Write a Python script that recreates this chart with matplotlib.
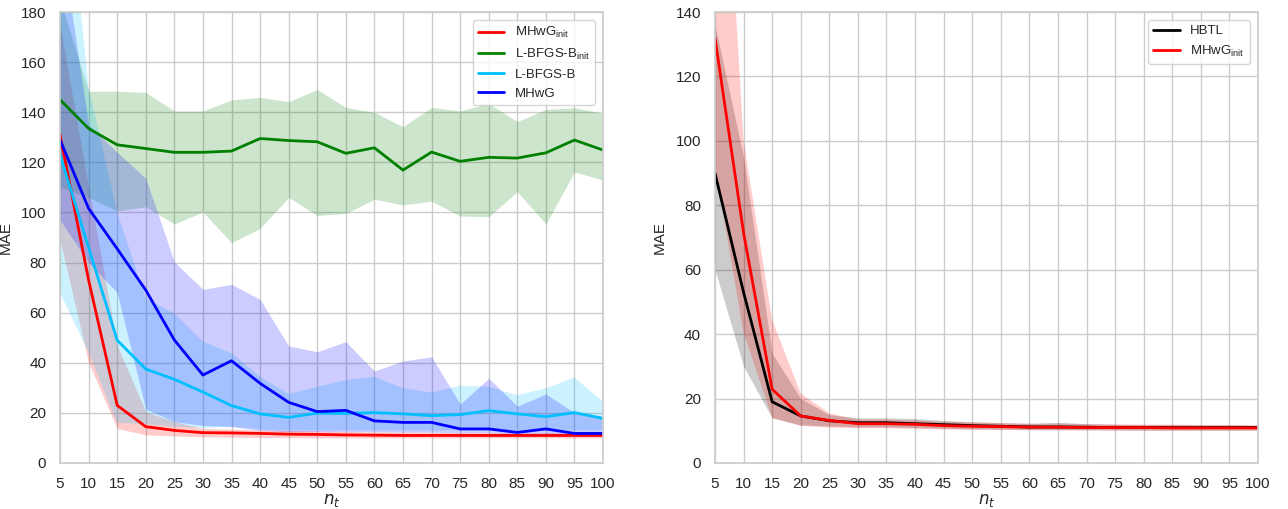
import numpy as np
import matplotlib
matplotlib.use('Agg')
import matplotlib.pyplot as plt
import seaborn as sns

sns.set_theme(style='whitegrid')
plt.rcParams['font.family'] = ['Liberation Sans', 'DejaVu Sans']

n_t = [5, 10, 15, 20, 25, 30, 35, 40, 45, 50, 55, 60, 65, 70, 75, 80, 85, 90, 95, 100]

# left panel
mhwg_init_mean = [131, 73, 23, 14.5, 13, 12.1, 12, 11.8, 11.5, 11.4, 11.2, 11.1, 11, 11, 11, 11, 11, 11, 11, 11]
mhwg_init_lo = [89, 40, 13.8, 11.2, 10.8, 10.5, 10.3, 10.2, 10.1, 10, 10, 10, 10, 10, 10, 10, 10, 10, 10, 10]
mhwg_init_hi = [175, 110, 47, 20.5, 16.5, 13.8, 13.5, 13.2, 13, 12.8, 12.6, 12.4, 12.3, 12.2, 12.1, 12, 12, 12, 12, 12]

lbfgsb_init_mean = [145, 133.5, 127, 125.5, 124, 124, 124.5, 129.5, 128.7, 128.2, 123.6, 125.8, 116.9, 124.1, 120.4, 122, 121.7, 123.8, 128.9, 124.9]
lbfgsb_init_lo = [110, 106, 100.6, 102.3, 95.4, 100.2, 87.9, 93.6, 106, 98.8, 99.6, 105.3, 103, 104.5, 98.6, 98.3, 108.3, 95.4, 116.2, 112.9]
lbfgsb_init_hi = [185, 148.4, 148.4, 147.9, 140.5, 140.5, 144.9, 145.9, 144.2, 149.1, 141.9, 140, 134.2, 141.9, 140.5, 143.5, 136.3, 141.1, 141.8, 139.5]

lbfgsb_mean = [123, 86, 49, 37.5, 33.4, 28.3, 22.9, 19.6, 18.2, 19.9, 19.8, 20.1, 19.6, 18.9, 19.3, 20.9, 19.6, 18.5, 20.1, 17.8]
lbfgsb_lo = [68, 44, 16, 15.5, 14.5, 14, 14.5, 13.5, 13, 13, 13, 13, 13, 13, 13, 13, 13, 13, 13, 13]
lbfgsb_hi = [260, 150, 100, 65.7, 59.7, 48.4, 43.8, 34.4, 27.5, 30.4, 33.1, 34.4, 29.8, 28.1, 30.9, 30.4, 27.1, 29.8, 34.1, 24.5]

mhwg_mean = [129, 101.6, 85.5, 69, 49.1, 35.1, 40.8, 31.8, 24.2, 20.5, 21, 16.8, 16.2, 16.2, 13.6, 13.6, 12.2, 13.6, 11.8, 11.8]
mhwg_lo = [97, 80, 68, 21.5, 16.5, 15, 14.5, 13, 12.5, 12.5, 12.5, 12.5, 12.3, 12.3, 12, 12, 11.5, 11.5, 11.2, 11.2]
mhwg_hi = [211, 135, 124, 113.6, 80.3, 69.3, 71.3, 65.3, 46.7, 44.4, 48.4, 36.7, 40.7, 42.4, 23.5, 33.8, 22.7, 27.5, 20.1, 18.5]

# right panel
hbtl_mean = [90, 53, 19, 14.6, 13.1, 12.5, 12.5, 12.2, 11.9, 11.6, 11.4, 11.2, 11.2, 11.1, 11, 11, 11, 11, 11, 11]
hbtl_lo = [60, 30, 14, 11.8, 11.5, 11.2, 11.2, 11, 10.8, 10.6, 10.5, 10.4, 10.4, 10.3, 10.3, 10.2, 10.2, 10.2, 10.2, 10.2]
hbtl_hi = [136, 95, 34, 20, 15, 14, 14, 13.8, 13.2, 12.8, 12.5, 12.3, 12.6, 12.2, 12, 11.9, 11.9, 11.8, 11.8, 11.8]

mhwg_init2_mean = [132, 71.5, 22.9, 14.6, 13.2, 12.2, 12.2, 12, 11.6, 11.4, 11.3, 11.1, 11.1, 11, 11, 11, 10.9, 10.9, 10.9, 10.9]
mhwg_init2_lo = [92, 40.5, 14, 11.5, 11, 10.8, 10.8, 10.6, 10.4, 10.3, 10.2, 10.2, 10.1, 10.1, 10, 10, 10, 10, 10, 10]
mhwg_init2_hi = [250, 100, 44.4, 21.6, 15.4, 13.5, 13.5, 13.2, 12.8, 12.6, 12.4, 12.2, 12.2, 12.1, 12, 11.9, 11.9, 11.8, 11.8, 11.6]

INIT = r'$_{\mathregular{init}}$'

fig = plt.figure(figsize=(12.88, 5.09), dpi=100)
ax1 = fig.add_axes([0.0466, 0.0904, 0.4216, 0.886])
ax2 = fig.add_axes([0.5551, 0.0904, 0.4216, 0.886])


def band(ax, mean, lo, hi, color, label):
    ax.plot(n_t, mean, color=color, lw=2, label=label)
    ax.fill_between(n_t, lo, hi, color=color, alpha=0.2, lw=0)


band(ax1, mhwg_init_mean, mhwg_init_lo, mhwg_init_hi, 'red', 'MHwG' + INIT)
band(ax1, lbfgsb_init_mean, lbfgsb_init_lo, lbfgsb_init_hi, 'green', 'L-BFGS-B' + INIT)
band(ax1, lbfgsb_mean, lbfgsb_lo, lbfgsb_hi, 'deepskyblue', 'L-BFGS-B')
band(ax1, mhwg_mean, mhwg_lo, mhwg_hi, 'blue', 'MHwG')
ax1.set_ylim(0, 180)
ax1.set_yticks(np.arange(0, 181, 20))

band(ax2, hbtl_mean, hbtl_lo, hbtl_hi, 'black', 'HBTL')
band(ax2, mhwg_init2_mean, mhwg_init2_lo, mhwg_init2_hi, 'red', 'MHwG' + INIT)
ax2.set_ylim(0, 140)
ax2.set_yticks(np.arange(0, 141, 20))

for ax in (ax1, ax2):
    ax.set_xlim(5, 100)
    ax.set_xticks(n_t)
    ax.tick_params(labelsize=11, pad=4)
    ax.set_xlabel(r'$n_t$', fontsize=12, labelpad=1)
    ax.set_ylabel('MAE', fontsize=11, labelpad=6)
    ax.legend(loc='upper right', fontsize=9.5, borderaxespad=0.6)

fig.savefig('out.png', dpi=100)
